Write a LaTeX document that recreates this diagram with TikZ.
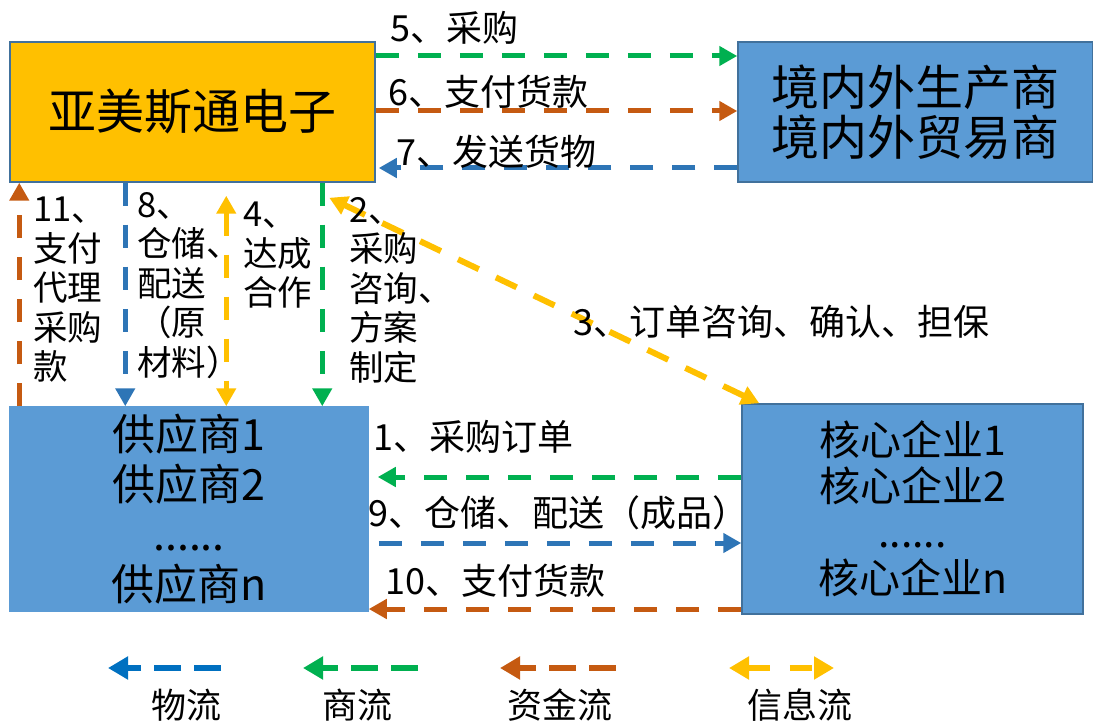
\documentclass[tikz,border=0pt]{standalone}
\usepackage{fontspec}
\setmainfont{Noto Sans CJK SC}
\usetikzlibrary{arrows.meta,positioning}

\definecolor{boxblue}{HTML}{5B9BD5}
\definecolor{boxedge}{HTML}{41719C}
\definecolor{firmgold}{HTML}{FFC000}
\definecolor{flowgreen}{HTML}{00B050}
\definecolor{flowbrown}{HTML}{C55A11}
\definecolor{flowblue}{HTML}{2E75B6}
\definecolor{keyblue}{HTML}{0070C0}

\tikzset{
  party/.style={draw=boxedge, line width=1.5pt, inner sep=0pt, align=center},
  flow/.style={line width=5pt, dash pattern=on 23pt off 19pt, -{Triangle[length=18pt,width=19pt]}},
  goods/.style={flow, flowblue},
  trade/.style={flow, flowgreen},
  money/.style={flow, flowbrown},
  info/.style={flow, firmgold, {Triangle[length=18pt,width=19pt]}-{Triangle[length=18pt,width=19pt]}},
  keyflow/.style={line width=6pt, dash pattern=on 27pt off 13pt, -{Triangle[length=20pt,width=22pt]}},
  lbl/.style={inner sep=0pt, font=\fontsize{36}{40}\selectfont},
  vlbl/.style={inner sep=0pt, anchor=north west, align=left, font=\fontsize{34.5}{39.5}\selectfont},
}

\begin{document}
\begin{tikzpicture}[x=1pt, y=-1pt]
    \useasboundingbox (0,0) rectangle (1093,722);

    % Define nodes
    \node[party, fill=firmgold, minimum width=365pt, minimum height=140pt,
          font=\fontsize{48}{50}\selectfont]            (yms) at (192.5,112) {亚美斯通电子};
    \node[party, fill=boxblue, minimum width=355pt, minimum height=140pt,
          font=\fontsize{48}{50}\selectfont]            (maker) at (915.5,112) {境内外生产商\\境内外贸易商};
    \node[party, draw=boxblue, fill=boxblue, minimum width=358pt, minimum height=204pt,
          font=\fontsize{43}{50}\selectfont]            (sup) at (189,509) {供应商1\\供应商2\\......\\供应商n};
    \node[party, fill=boxblue, minimum width=341pt, minimum height=210pt,
          font=\fontsize{41}{46}\selectfont]            (core) at (912.5,509) {核心企业1\\核心企业2\\......\\核心企业n};

    % Connect the nodes
    \draw[trade] ([yshift=56pt]yms.east) -- ([yshift=56pt]maker.west);
    \draw[money] ([yshift=1pt]yms.east) -- ([yshift=1pt]maker.west);
    \draw[goods] ([yshift=-56pt]maker.west) -- ([yshift=-56pt,xshift=3pt]yms.east);

    \draw[money] ([xshift=10pt]sup.north west) -- ([xshift=10pt]yms.south west);
    \draw[goods] ([xshift=116pt]yms.south west) -- ([xshift=116pt]sup.north west);
    \draw[info]  ([xshift=217pt,yshift=-13pt]yms.south west) -- ([xshift=217pt]sup.north west);
    \draw[trade] ([xshift=313pt]yms.south west) -- ([xshift=313pt]sup.north west);
    \draw[info, line width=6pt] ([xshift=18pt]core.north west) -- ([xshift=320pt,yshift=-15pt]yms.south west);

    \draw[trade] ([yshift=32pt]core.west) -- ([yshift=32pt,xshift=9pt]sup.east);
    \draw[goods] ([yshift=-34pt,xshift=10pt]sup.east) -- ([yshift=-34pt]core.west);
    \draw[money] ([yshift=-100pt]core.west) -- ([yshift=-100pt]sup.east);

    % Labels
    \node[lbl, anchor=west] (l5)  at (390,28)  {5、采购};
    \node[lbl, anchor=west] (l6)  at (388,92)  {6、支付货款};
    \node[lbl, anchor=west] (l7)  at (396,152) {7、发送货物};
    \node[lbl, anchor=west] (l3)  at (573,322) {3、订单咨询、确认、担保};
    \node[lbl, anchor=west] (l1)  at (373,437) {1、采购订单};
    \node[lbl, anchor=west] (l9)  at (368,513) {9、仓储、配送（成品）};
    \node[lbl, anchor=west] (l10) at (385,581) {10、支付货款};

    \node[vlbl] (l11) at (33,197)  {11、\\支付\\代理\\采购\\款};
    \node[vlbl] (l8)  at (137,192) {8、\\仓储、\\配送\\（原\\材料）};
    \node[vlbl] (l4)  at (243,202) {4、\\达成\\合作};
    \node[vlbl] (l2)  at (349,197) {2、\\采购\\咨询、\\方案\\制定};

    % Legend
    \node[lbl, font=\fontsize{35}{40}\selectfont] (k-goods) at (186,705) {物流};
    \node[lbl, font=\fontsize{35}{40}\selectfont] (k-trade) at (357,705) {商流};
    \node[lbl, font=\fontsize{35}{40}\selectfont] (k-money) at (560,705) {资金流};
    \node[lbl, font=\fontsize{35}{40}\selectfont] (k-info)  at (800,705) {信息流};
    \coordinate (kg1) at (221,668); \coordinate (kg2) at (108,668);
    \coordinate (kt1) at (418,668); \coordinate (kt2) at (303,668);
    \coordinate (km1) at (616,668); \coordinate (km2) at (500,668);
    \coordinate (ki1) at (729,668); \coordinate (ki2) at (834,668);
    \draw[keyflow, keyblue]   (kg1) -- (kg2);
    \draw[keyflow, flowgreen] (kt1) -- (kt2);
    \draw[keyflow, flowbrown] (km1) -- (km2);
    \draw[keyflow, firmgold, dash pattern=on 22pt off 20pt,
          {Triangle[length=20pt,width=22pt]}-{Triangle[length=20pt,width=22pt]}] (ki1) -- (ki2);

\end{tikzpicture}
\end{document}
